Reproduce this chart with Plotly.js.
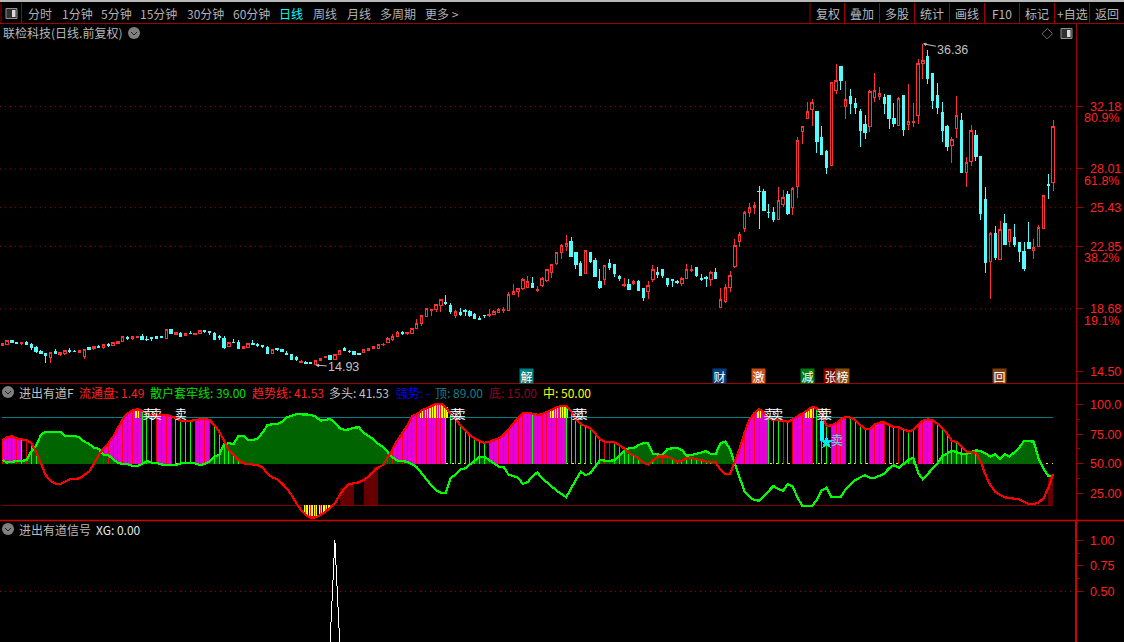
<!DOCTYPE html>
<html>
<head>
<meta charset="utf-8">
<script src="https://cdn.plot.ly/plotly-3.0.1.min.js"></script>
<style>
html,body{margin:0;padding:0;background:#000;overflow:hidden}
#chart{width:1124px;height:642px}
.scatterlayer path,.boxlayer path{shape-rendering:crispEdges}
</style>
</head>
<body>
<div id="chart"></div>
<script>
// ---------- price values ----------
const open=[16.23,16.32,16.58,16.43,16.36,16.47,16.34,16.14,15.87,15.72,
15.41,15.83,15.67,15.74,15.94,15.87,15.76,15.50,16.10,16.01,
16.18,16.10,16.34,16.23,16.36,16.50,16.78,16.70,16.76,16.87,
16.67,16.76,16.81,16.81,16.74,17.34,16.98,17.07,16.94,17.07,
16.96,17.03,17.23,17.16,17.07,16.83,16.74,16.18,16.45,16.41,
16.03,16.10,16.38,16.34,16.25,16.14,15.74,16.05,15.96,15.72,
15.65,15.41,15.10,15.14,15.10,14.98,15.23,15.43,15.58,15.32,
15.67,16.03,15.87,15.85,15.70,15.76,15.90,16.03,16.05,
16.28,16.43,16.61,16.83,17.12,17.05,17.01,17.37,17.68,18.17,
18.57,18.61,18.88,19.14,18.88,18.21,18.41,18.57,18.54,18.30,
18.01,18.25,18.21,18.30,18.45,18.57,18.57,19.63,19.83,20.01,
20.12,20.39,19.90,20.21,20.59,21.10,21.70,22.43,22.83,23.19,
22.41,21.68,21.03,22.41,21.94,20.54,20.65,21.68,21.61,20.81,
20.21,20.34,20.39,20.54,20.01,19.83,20.61,21.14,21.28,20.74,
20.65,20.54,20.39,20.74,21.23,21.41,20.72,20.79,20.61,21.08,
18.77,19.17,20.08,21.54,23.17,24.05,25.10,25.41,26.54,26.48,
25.14,25.08,24.61,25.63,26.34,25.41,26.83,30.49,31.36,32.00,
31.87,30.14,29.20,28.27,33.27,34.87,32.16,32.87,32.40,31.87,
31.00,30.83,32.80,32.87,32.80,32.94,31.40,30.94,32.94,30.96,
31.12,31.56,35.03,35.54,34.40,32.94,31.80,30.87,29.60,30.74,
31.27,27.78,28.54,30.27,28.87,26.00,21.83,23.74,22.00,24.40,
23.20,23.47,23.14,22.54,23.14,22.60,22.87,24.07,26.98,27.14];
const high=[16.38,16.58,16.58,16.47,16.41,16.54,16.41,16.21,15.94,15.72,
15.78,15.98,15.78,15.96,16.07,15.94,15.92,15.98,16.14,16.23,
16.27,16.36,16.43,16.45,16.54,16.85,16.87,16.87,16.85,17.01,
16.85,16.81,16.87,16.87,17.36,17.34,17.12,17.14,17.07,17.21,
17.07,17.27,17.30,17.23,17.12,16.92,16.85,16.47,16.67,16.58,
16.18,16.38,16.58,16.41,16.27,16.21,16.03,16.10,16.01,15.85,
15.65,15.52,15.25,15.21,15.10,15.25,15.38,15.52,15.58,15.65,
15.96,16.14,15.92,15.85,15.76,15.98,16.07,16.21,16.36,
16.41,16.83,16.99,17.19,17.19,17.12,17.39,17.99,18.30,18.72,
18.65,18.99,19.37,19.59,19.05,18.61,18.74,18.65,18.61,18.39,
18.21,18.25,18.68,18.61,18.72,18.79,19.81,20.32,20.05,20.72,
20.88,20.81,20.19,20.79,21.34,21.70,22.45,23.01,23.61,23.45,
22.45,21.85,22.59,22.48,22.05,21.34,21.59,22.01,21.61,20.94,
20.74,20.68,20.61,20.61,20.08,20.54,21.61,21.48,21.28,20.74,
20.65,20.61,20.81,21.68,21.61,21.41,21.01,20.88,21.21,21.41,
20.08,20.34,21.21,23.34,23.81,25.21,25.74,25.81,26.88,26.68,
25.68,25.48,26.81,26.61,26.54,26.81,30.14,30.87,32.47,32.67,
31.87,30.87,29.27,33.78,35.00,34.87,33.87,33.34,32.74,32.00,
31.60,33.27,34.40,33.47,33.00,32.94,32.40,32.80,32.94,33.67,
32.40,35.31,36.36,35.94,34.40,33.74,32.47,30.94,30.14,32.87,
31.74,28.80,30.94,30.60,28.87,26.80,23.80,24.20,24.54,25.00,
24.00,24.34,23.14,23.14,24.47,23.34,24.27,26.25,27.67,31.27];
const low=[16.23,16.27,16.41,16.34,16.27,16.34,15.94,15.74,15.65,15.07,
15.07,15.65,15.54,15.63,15.76,15.78,15.76,15.34,15.94,15.94,
16.05,16.01,16.12,16.23,16.36,16.50,16.58,16.61,16.76,16.61,
16.54,16.54,16.65,16.72,16.65,17.01,16.92,16.87,16.85,16.98,
16.96,17.01,17.07,16.94,16.67,16.61,16.01,16.12,16.41,16.01,
16.03,16.10,16.25,16.14,16.07,15.74,15.65,15.87,15.81,15.67,
15.34,15.21,15.07,15.01,15.03,14.93,15.23,15.43,15.34,15.32,
15.63,15.90,15.74,15.67,15.63,15.76,15.90,16.03,16.01,
16.23,16.39,16.57,16.79,16.94,16.94,17.01,17.32,17.57,18.12,
18.21,18.50,18.45,18.94,18.34,18.10,18.21,18.21,18.12,18.01,
17.97,18.08,18.14,18.25,18.41,18.43,18.52,19.61,19.48,19.94,
20.05,20.08,19.81,20.17,20.45,20.77,21.61,22.03,22.52,22.17,
21.34,20.88,21.03,21.74,20.81,20.01,20.30,21.25,20.79,20.54,
20.17,19.94,20.25,19.85,19.21,19.34,20.48,20.74,20.77,20.14,
20.14,20.36,20.21,20.68,21.14,20.81,20.54,20.14,20.21,20.68,
18.77,19.10,19.81,21.41,22.83,23.83,24.81,25.01,24.01,25.21,
24.74,24.48,24.61,25.48,24.94,24.94,26.08,29.67,31.31,30.87,
29.09,28.94,27.67,28.27,33.00,33.27,31.34,31.67,31.67,29.47,
30.00,30.47,32.47,32.60,31.67,30.67,30.80,30.87,30.20,30.60,
30.80,31.00,34.00,33.67,32.00,31.67,29.80,29.20,28.40,30.07,
27.74,26.80,28.20,28.54,24.60,21.07,19.34,21.94,22.00,22.94,
22.80,22.80,21.80,21.20,22.67,22.00,22.87,24.00,26.00,26.54];
const close=[16.38,16.58,16.41,16.36,16.41,16.34,16.12,15.87,15.72,15.56,
15.78,15.74,15.78,15.92,15.87,15.83,15.92,15.98,15.98,16.18,
16.14,16.32,16.27,16.45,16.54,16.85,16.72,16.81,16.85,16.67,
16.63,16.70,16.74,16.76,17.32,17.01,17.12,16.87,17.05,17.03,
17.07,17.21,17.18,17.10,16.67,16.78,16.14,16.41,16.41,16.07,
16.18,16.38,16.32,16.21,16.16,15.74,15.98,15.96,15.83,15.67,
15.34,15.30,15.18,15.07,15.03,15.25,15.38,15.52,15.34,15.65,
15.92,15.90,15.81,15.67,15.65,15.98,16.03,16.16,16.32,
16.34,16.74,16.81,17.08,17.01,17.12,17.39,17.74,18.21,18.68,
18.65,18.99,19.32,19.01,18.48,18.54,18.34,18.50,18.21,18.03,
17.97,18.21,18.34,18.54,18.63,18.61,19.61,19.85,20.05,20.65,
20.48,20.10,19.99,20.68,21.30,21.61,22.45,22.90,23.05,22.17,
21.65,20.94,22.59,21.81,20.81,20.14,21.59,21.41,21.01,20.68,
20.34,19.97,20.54,19.94,19.41,20.21,21.28,20.97,20.88,20.28,
20.59,20.45,20.74,21.28,21.28,20.88,20.65,20.74,21.14,20.72,
19.28,20.14,20.94,22.88,23.61,25.14,25.45,25.59,26.50,25.21,
25.10,24.61,25.94,26.12,25.01,26.74,29.94,30.87,31.87,32.45,
29.87,29.00,28.14,33.78,33.91,33.94,32.67,32.40,32.14,30.60,
30.47,33.20,33.27,33.05,32.40,31.40,31.07,32.74,30.67,31.18,
31.20,35.05,35.27,34.07,32.60,32.14,30.60,29.54,30.00,31.60,
27.80,28.47,30.60,28.87,25.07,21.80,23.74,22.14,24.00,23.00,
24.00,23.00,22.54,21.40,22.74,22.80,24.14,26.25,26.94,30.87];

// ---------- 进出有道F indicator values ----------
const trendLine=[70.1,72.3,73.2,71.5,70.6,70.1,67.3,60.2,50.3,40.4,
35.6,33.1,32.5,34.8,36.7,37.0,37.6,40.4,43.2,49.7,
57.4,63.0,67.3,72.9,80.0,87.9,92.7,95.0,96.1,95.0,
92.7,90.4,91.3,91.5,91.3,90.4,88.4,86.5,86.2,86.2,
87.0,87.9,88.2,87.0,82.8,77.2,68.7,61.6,57.4,53.1,
50.3,49.7,49.4,48.9,46.9,41.8,38.4,37.0,33.4,29.1,
23.5,16.4,10.8,6.5,4.3,4.5,6.5,9.4,12.2,16.4,
23.5,29.1,32.8,33.4,34.2,36.2,39.0,43.2,46.9,
48.9,55.4,62.2,70.1,75.7,82.0,90.4,91.8,95.0,97.2,
98.9,100.6,100.9,97.8,92.1,88.4,82.8,78.6,74.0,71.5,
69.0,67.8,68.4,70.1,71.2,74.3,78.6,83.6,89.0,93.2,
93.2,92.4,91.5,91.8,93.8,96.1,97.8,98.9,98.6,94.7,
87.6,83.6,82.0,80.0,75.7,70.6,68.7,68.7,68.1,65.8,
63.0,58.8,57.1,54.5,50.9,49.4,53.1,56.0,56.2,56.0,
54.0,51.7,52.3,54.5,55.1,53.7,53.1,51.7,51.7,51.4,
44.7,41.0,41.3,51.7,63.0,76.3,87.0,92.7,96.1,
93.8,88.4,87.0,86.5,86.5,85.3,87.6,90.4,92.7,95.0,
98.3,96.9,92.7,82.0,82.5,84.2,87.6,89.9,89.0,87.0,
82.8,79.7,79.4,83.4,84.8,85.1,82.8,80.8,81.1,79.4,
77.2,78.6,82.8,86.5,87.6,86.5,84.2,80.0,75.7,69.2,
68.4,64.4,60.2,59.9,59.3,51.7,40.4,32.0,26.3,23.5,
21.5,20.9,20.4,19.8,17.8,15.8,15.8,17.0,20.6,29.1,41.53];
const trapLine=[53.1,50.9,51.7,52.3,52.3,52.9,60.2,65.3,74.3,77.2,
77.2,77.2,77.2,73.5,73.5,73.5,72.3,68.7,66.7,63.6,
62.5,57.4,57.4,53.7,50.9,49.7,49.7,48.3,48.0,49.7,
52.3,50.9,50.9,49.4,48.9,48.9,48.9,50.3,50.9,50.9,
50.3,48.9,49.7,51.7,56.0,57.4,66.7,67.3,66.7,73.7,
73.7,70.1,70.1,71.5,76.3,82.8,83.4,83.6,85.6,89.3,
90.7,91.8,91.8,91.8,91.5,89.9,86.5,87.0,87.9,84.8,
80.0,78.6,79.1,80.5,80.8,76.3,73.7,70.6,66.7,
64.4,59.6,55.4,52.6,52.3,51.7,49.7,46.9,41.8,36.7,
31.7,27.7,25.2,25.4,37.3,41.0,44.9,46.1,49.2,53.1,
55.7,56.0,53.1,49.7,47.5,47.2,41.0,39.6,38.2,32.8,
34.5,39.0,42.7,37.6,33.9,30.5,27.2,24.3,21.5,29.1,
36.7,43.2,40.4,41.8,47.5,53.1,52.6,52.3,53.1,56.5,
61.0,63.0,63.0,65.8,67.3,67.3,58.2,57.6,57.4,62.5,
63.3,63.6,61.6,56.8,57.4,58.2,59.4,60.8,58.2,58.2,
67.3,68.7,62.2,49.7,37.6,26.3,22.0,19.2,18.7,
22.3,26.9,31.1,28.3,27.2,32.8,30.5,21.2,14.2,14.2,
14.2,19.2,27.2,29.7,22.0,21.5,22.0,28.6,32.8,36.2,
38.4,40.4,38.2,38.2,39.6,41.8,46.1,48.9,46.6,49.7,
53.1,55.1,42.4,36.7,41.3,46.1,50.3,56.5,58.8,60.8,
59.9,58.2,58.2,59.6,61.3,60.8,58.8,56.0,58.2,53.7,
58.2,56.0,59.6,63.6,69.5,69.2,68.7,54.5,46.1,39.6,39.0];
const topLevel=89, bottomLevel=15, midLevel=50;
const magentaStart=[0,21,32,40,79,101,152,164,172,180,190];
const magentaEnd=[4,29,35,43,92,117,159,168,175,183,193];
const extraRedSticks=[5,125,126,136,137,138,162,186,201];
const greenSticks=[4,6,7,29,30,31,36,37,38,39,44,45,46,47,48,49,92,93,94,95,96,97,98,99,100,110,117,
118,119,120,121,122,123,124,127,128,129,130,131,132,133,135,139,140,141,142,143,144,145,146,147,148,
159,160,161,163,169,170,171,176,177,178,179,184,185,187,188,189,194,195,196,197,198,199,200,202,203];
const yellowTop=[28,87,88,89,90,91,92,114,115,116,117,157,167,168];
const yellowBottom=[63,64,65,66,67,68];
const darkRedBars=[71,72,73,76,77,78,218];
const sellWhiteAt=[30.3,31.9,37,94,94.9,119.3,120.2,159.2,160.8,170.1,170.9];
const sellWhiteLevel=90.5;
const cyanBarAt=170, cyanBarFrom=86.5, cyanBarTo=69.2;
const starAt=171, starLevel=68.1;
const sellCyanAt=173.2;
// ---------- 进出有道信号 ----------
const signalPeak=69;
const xg=close.map((_,i)=>i===signalPeak?1:0);

// ---------- axis values ----------
const priceTicks=[14.50,18.68,22.85,25.43,28.01,32.18];
const priceGrid=[18.68,22.85,25.43,28.01,32.18];
const fibText=['80.9%','61.8%','38.2%','19.1%'];
const fibLevel=[31.38,27.19,22.05,17.85];
const indTicks=[25,50,75,100], indText=['25.00','50.00','75.00','100.0'];
const sigTicks=[0.5,0.75,1], sigText=['0.50','0.75','1.00'];

// ---------- text ----------
const toolLeft=['分时','1分钟','5分钟','15分钟','30分钟','60分钟','日线','周线','月线','多周期','更多 >'];
const toolLeftX=[27,61,100,139,186,232,278,312,346,379,424];
const toolRight=['复权','叠加','多股','统计','画线','F10','标记','+自选','返回'];
const toolSep=[810,844.5,879.5,914.5,949.5,984.5,1019.5,1054.5,1089.5];
const legendInd=[['进出有道F',18,'#c0c0c0'],['流通盘: 1.49',78,'#ff2020'],['散户套牢线: 39.00',149,'#00e000'],['趋势线: 41.53',251,'#ff2020'],
 ['多头: 41.53',328,'#c0c0c0'],['强势: -',395,'#0000ff'],['顶: 89.00',434,'#108088'],['底: 15.00',488,'#900028'],['中: 50.00',542,'#ffff00']];
const tags=[['解',526.3,'#008080'],['财',719.3,'#00407c'],['激',758.5,'#c85014'],['减',807.3,'#007c10'],['张',830.3,'#800000'],['榜',842.6,'#8c5010'],['回',999.6,'#804010']];

// ---------- pixel helpers for page furniture ----------
const W=1124,H=642,axisX=1075.5;
const px=x=>x/W, py=y=>1-y/H;
const CJK='"Noto Sans CJK SC","Liberation Sans",sans-serif';
const NUM='"Liberation Sans",sans-serif';
const red='#ff2020',darkLine='#a00000';

const ann=[];
function label(t,x,y,c,anchor,size){ann.push({text:t,xref:'paper',yref:'paper',x:px(x),y:py(y),xanchor:anchor||'left',yanchor:'middle',showarrow:false,font:{family:CJK,size:size||12,color:c||'#c0c0c0'},borderpad:0});}
toolLeft.forEach((t,i)=>label(t,toolLeftX[i],13.5,t==='日线'?'#00ffff':'#b0b0b0'));
toolRight.forEach((t,i)=>label(t,toolSep[i]+17.5,13.5,'#b8b8b8','center'));
label('联检科技(日线.前复权)',2,33,'#b8b8b8');
legendInd.forEach(l=>label(l[0],l[1],392,l[2]));
label('进出有道信号',18,529,'#b8b8b8');
label('XG: 0.00',95,529,'#e8e8e8');
fibText.forEach((t,i)=>ann.push({text:t,xref:'paper',yref:'y',x:px(1121),y:fibLevel[i],xanchor:'right',yanchor:'middle',showarrow:false,font:{family:NUM,size:12.5,color:red}}));
tags.forEach(t=>ann.push({text:t[0],xref:'paper',yref:'paper',x:px(t[1]),y:py(376),xanchor:'center',yanchor:'middle',showarrow:false,width:13,height:14,align:'center',valign:'middle',borderpad:0,bgcolor:t[2],font:{family:CJK,size:12,color:'#fff'}}));
ann.push({text:'36.36',x:191,y:36.36,xref:'x',yref:'y',ax:30,ay:6,axref:'pixel',ayref:'pixel',showarrow:true,arrowhead:2,arrowsize:0.7,arrowwidth:1,arrowcolor:'#c0c0c0',font:{family:NUM,size:12.5,color:'#c0c0c0'}});
ann.push({text:'14.93',x:65,y:14.93,xref:'x',yref:'y',ax:28,ay:2,axref:'pixel',ayref:'pixel',showarrow:true,arrowhead:2,arrowsize:0.7,arrowwidth:1,arrowcolor:'#c0c0c0',font:{family:NUM,size:12.5,color:'#c0c0c0'}});

const shapes=[];
function rectPx(x0,y0,x1,y1,fill,line){shapes.push({type:'rect',xref:'paper',yref:'paper',x0:px(x0),x1:px(x1),y0:py(y0),y1:py(y1),fillcolor:fill,line:{color:line||fill,width:line?1:0}});}
function linePx(x0,y0,x1,y1,c,w){shapes.push({type:'line',xref:'paper',yref:'paper',x0:px(x0),x1:px(x1),y0:py(y0),y1:py(y1),line:{color:c,width:w||1}});}
function circlePx(cx,cy,r,c){shapes.push({type:'circle',xref:'paper',yref:'paper',x0:px(cx-r),x1:px(cx+r),y0:py(cy+r),y1:py(cy-r),fillcolor:c,line:{width:0}});}
function pathPx(pts,c,fill){shapes.push({type:'path',xref:'paper',yref:'paper',path:'M'+pts.map(p=>px(p[0])+','+py(p[1])).join(' L')+(fill?' Z':''),line:{color:c,width:1},fillcolor:fill||'rgba(0,0,0,0)'});}
rectPx(0,0,W,2,'#b8b8b8');
linePx(0,23.5,W,23.5,darkLine);
linePx(1,3,1,23,darkLine);linePx(21.5,3,21.5,23,darkLine);
toolSep.forEach(x=>linePx(x,3,x,23,darkLine));
linePx(0,383.5,W,383.5,darkLine);
linePx(0,520.5,W,520.5,'#d00000',1.5);
linePx(1076,520.5,1076,H,'#d00000',2);
function panelIcon(x,y){rectPx(x,y,x+11,y+10,'#303030','#909090');rectPx(x+6,y+1.5,x+9.5,y+8.5,'#d8d8d8');}
panelIcon(6,8.5);panelIcon(1061,28.5);
pathPx([[1047.3,28.5],[1052.5,33.7],[1047.3,39],[1042,33.7],[1047.3,28.5]],'#707070');
[[134,33],[8,392],[8,529]].forEach(c=>{circlePx(c[0],c[1],6,'#808080');pathPx([[c[0]-3,c[1]-1],[c[0],c[1]+2],[c[0]+3,c[1]-1]],'#202020');});
priceGrid.forEach(v=>shapes.push({type:'line',xref:'paper',yref:'y',x0:0,x1:px(axisX),y0:v,y1:v,layer:'below',line:{color:'#a00000',width:1,dash:'1px,4px'}}));
shapes.push({type:'line',xref:'paper',yref:'y3',x0:0,x1:px(axisX),y0:0.5,y1:0.5,layer:'below',line:{color:'#a00000',width:1,dash:'1px,4px'}});

// ---------- traces ----------
const idx=close.map((_,i)=>i);
const T=[];
T.push({type:'candlestick',x:idx,open,high,low,close,xaxis:'x',yaxis:'y',whiskerwidth:0,hoverinfo:'skip',
 increasing:{line:{color:'#ff3232',width:1},fillcolor:'#000000'},
 decreasing:{line:{color:'#54fcfc',width:1},fillcolor:'#54fcfc'}});

const y2={xaxis:'x',yaxis:'y2',hoverinfo:'skip'};
const last=close.length-1;
T.push({...y2,type:'bar',x:darkRedBars.map(i=>i-0.5),base:darkRedBars.map(()=>bottomLevel),y:darkRedBars.map(i=>trendLine[i]-bottomLevel),width:1,marker:{color:'#640000',line:{width:0}}});
T.push({...y2,type:'scatter',mode:'lines',x:[0,last],y:[topLevel,topLevel],line:{color:'#008080',width:1}});
T.push({...y2,type:'scatter',mode:'lines',x:[0,last],y:[bottomLevel,bottomLevel],line:{color:'#800000',width:1}});
T.push({...y2,type:'scatter',mode:'lines',x:[0,last],y:[midLevel,midLevel],line:{color:'#ffff00',width:1,dash:'2px,4px'}});
// magenta blocks under the trend line
let mx=[],my=[];
magentaStart.forEach((s,k)=>{const e=magentaEnd[k];mx.push(s);my.push(midLevel);for(let i=s;i<=e;i++){mx.push(i);my.push(Math.max(trendLine[i],midLevel));}mx.push(e,e,null);my.push(midLevel,midLevel,null);});
T.push({...y2,type:'scatter',mode:'none',x:mx,y:my,fill:'toself',fillcolor:'#e800d8'});
// dark green area between the trap line and the 50 level
let gx=[],gy=[],open_=false;
for(let i=0;i<=last;i++){
  const v=trapLine[i],up=v>midLevel;
  if(up&&!open_){const p=i>0?trapLine[i-1]:midLevel;const c=i>0?i-1+(midLevel-p)/(v-p):0;gx.push(c);gy.push(midLevel);open_=true;}
  if(up){gx.push(i);gy.push(v);}
  if(open_&&(!up||i===last)){
    if(!up){const p=trapLine[i-1];const c=i-1+(p-midLevel)/(p-v);gx.push(c,null);gy.push(midLevel,null);}
    else{gx.push(i,null);gy.push(midLevel,null);}
    open_=false;
  }
}
T.push({...y2,type:'scatter',mode:'none',x:gx,y:gy,fill:'toself',fillcolor:'#006400'});
function sticks(list,from,valueOf,color,w){const x=[],y=[];list.forEach(i=>{x.push(i,i,null);y.push(from,valueOf(i),null);});T.push({...y2,type:'scatter',mode:'lines',x,y,line:{color,width:w}});}
sticks(yellowTop,topLevel,i=>trendLine[i],'#ffff00',3.6);
sticks(yellowBottom,bottomLevel,i=>trendLine[i],'#ffff00',3.6);
const inMagenta=[];magentaStart.forEach((s,k)=>{for(let i=s;i<=magentaEnd[k];i++)if(trendLine[i]>midLevel)inMagenta.push(i);});
sticks(inMagenta.concat(extraRedSticks),midLevel,i=>trendLine[i],'#ff0000',0.9);
sticks(yellowBottom,bottomLevel,i=>trendLine[i],'#ff0000',0.9);
sticks(greenSticks,midLevel,i=>trendLine[i],'#00ff00',1);
T.push({...y2,type:'scatter',mode:'lines',x:idx,y:trapLine,line:{color:'#00ff00',width:2.2}});
T.push({...y2,type:'scatter',mode:'lines',x:idx,y:trendLine,line:{color:'#ff0000',width:2.2}});
T.push({...y2,type:'scatter',mode:'lines',x:[cyanBarAt,cyanBarAt],y:[cyanBarFrom,cyanBarTo],line:{color:'#00ffff',width:4}});
T.push({...y2,type:'scatter',mode:'markers',x:[starAt],y:[starLevel],marker:{symbol:'star',size:11,color:'#00e5ee',line:{width:0}}});
T.push({...y2,type:'scatter',mode:'text',x:sellWhiteAt,y:sellWhiteAt.map(()=>sellWhiteLevel),text:sellWhiteAt.map(()=>'卖'),textposition:'middle center',textfont:{family:CJK,size:12,color:'#ffffff'}});
T.push({...y2,type:'scatter',mode:'text',x:[sellCyanAt],y:[starLevel],text:['卖'],textposition:'middle center',textfont:{family:CJK,size:12,color:'#40e8f0'}});
T.push({type:'scatter',mode:'lines',x:idx,y:xg,xaxis:'x',yaxis:'y3',hoverinfo:'skip',line:{color:'#ffffff',width:1}});

const tickFont={family:NUM,size:12.5,color:red};
function yAxis(dom,range,tickvals,ticktext,extra){return Object.assign({domain:[py(dom[1]),py(dom[0])],range,side:'right',anchor:'x',fixedrange:true,showgrid:false,zeroline:false,showline:true,linecolor:darkLine,linewidth:1,ticks:'outside',ticklen:6,tickcolor:darkLine,tickwidth:1,tickvals,ticktext,tickfont:tickFont,ticklabelstandoff:5},extra||{});}

const layout={width:W,height:H,autosize:false,paper_bgcolor:'#000',plot_bgcolor:'#000',showlegend:false,dragmode:false,hovermode:false,
 margin:{l:0,r:0,t:0,b:0,pad:0},barmode:'overlay',bargap:0,annotations:ann,shapes,
 xaxis:{domain:[0,px(axisX)],range:[-0.477,222.66],visible:false,fixedrange:true,rangeslider:{visible:false},type:'linear'},
 yaxis:yAxis([24,383.5],[13.707,37.673],priceTicks,priceTicks.map(v=>v.toFixed(2))),
 yaxis2:yAxis([383.5,520.5],[1.86,117.97],indTicks,indText,{minor:{tickvals:[37.5,62.5,87.5],ticks:'outside',ticklen:3,tickcolor:darkLine}}),
 yaxis3:yAxis([520.5,642],[0.004,1.196],sigTicks,sigText,{minor:{tickvals:[0.625,0.875],ticks:'outside',ticklen:3,tickcolor:darkLine}})
};
Plotly.newPlot('chart',T,layout,{staticPlot:true,displayModeBar:false});
</script>
</body>
</html>
